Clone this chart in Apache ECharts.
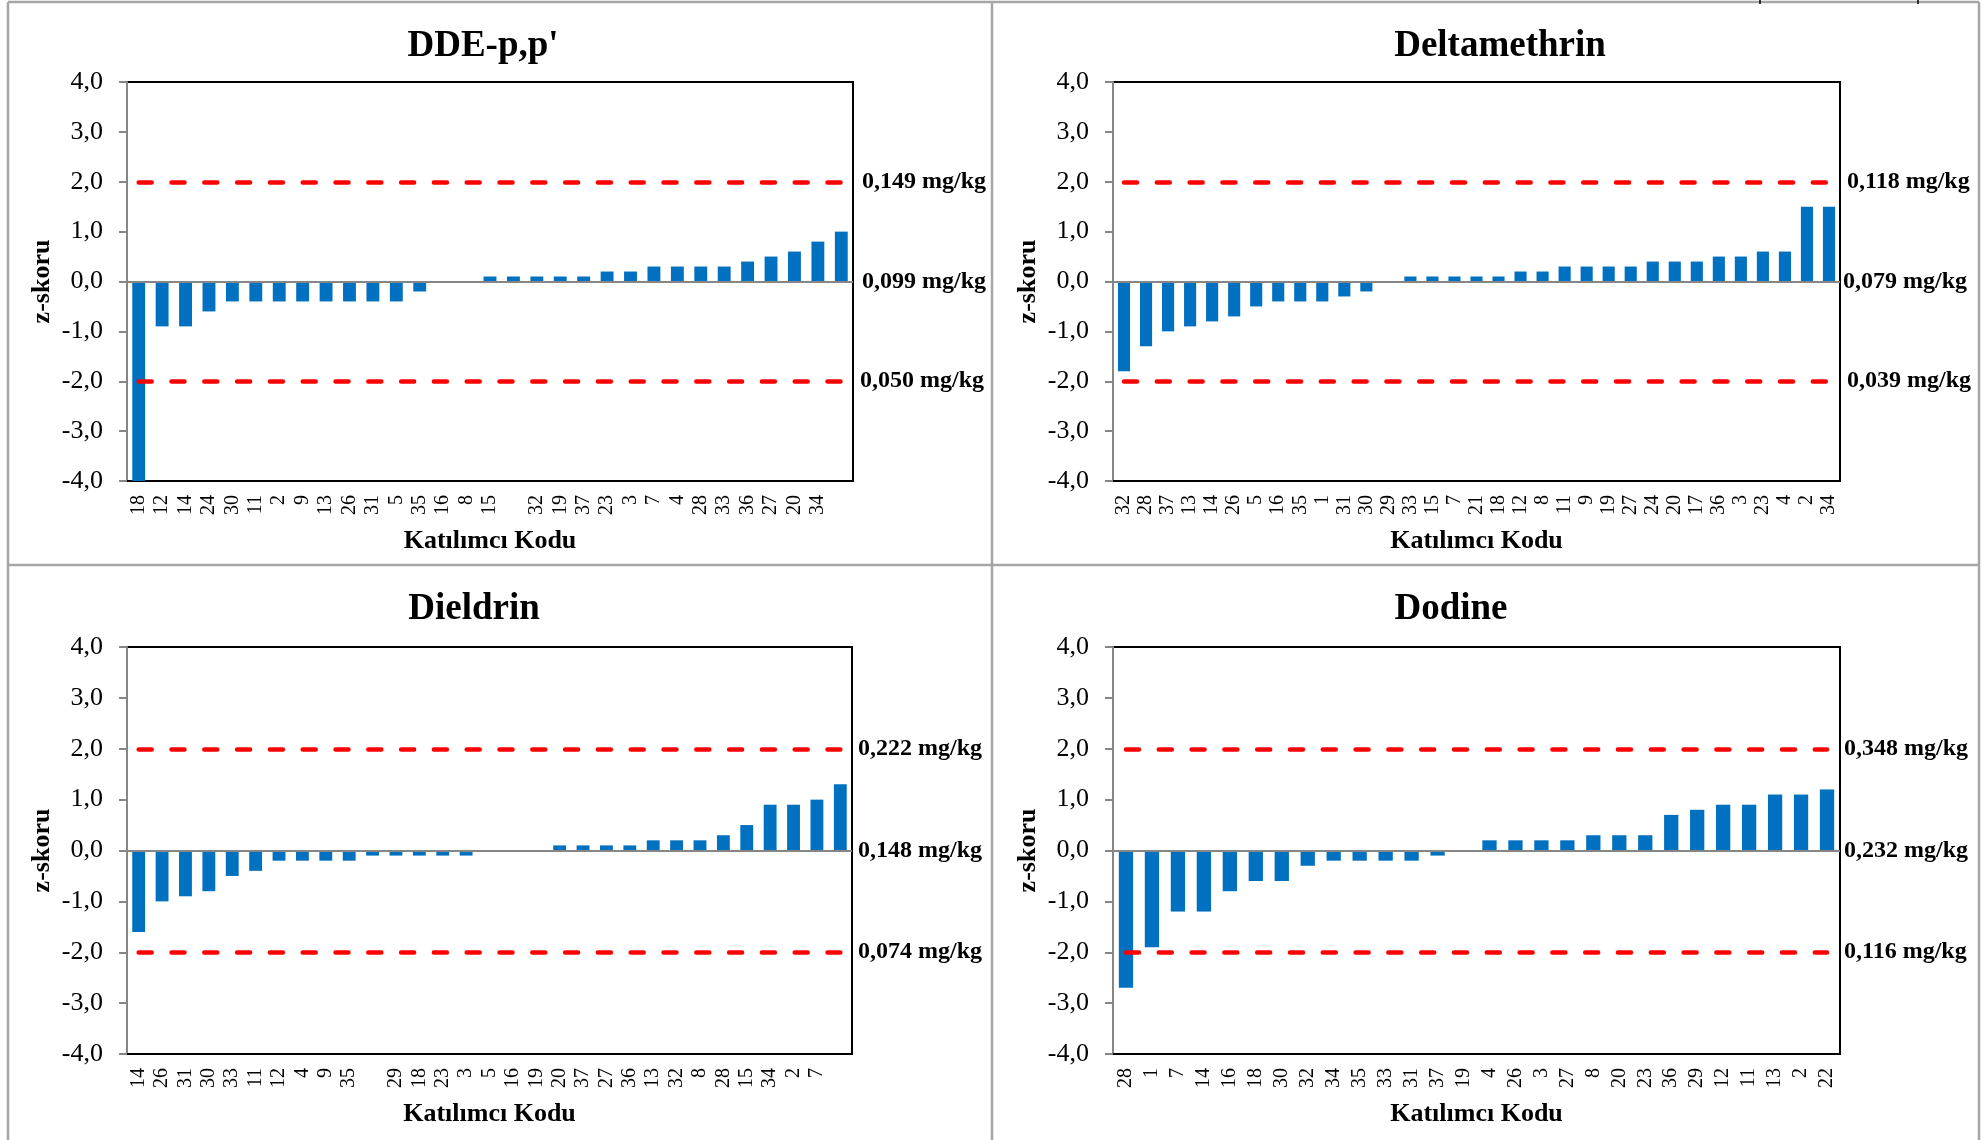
<!DOCTYPE html>
<html>
<head>
<meta charset="utf-8">
<script src="https://cdn.jsdelivr.net/npm/echarts@6/dist/echarts.min.js"></script>
<style>
html,body{margin:0;padding:0;background:#fff;}
#chart{width:1986px;height:1140px;}
</style>
</head>
<body>
<div id="chart"></div>
<script>
// ---- data ----
const titles = ["DDE-p,p'", "Deltamethrin", "Dieldrin", "Dodine"];

const ddeCategories = ["18","12","14","24","30","11","2","9","13","26","31","5","35","16","8","15"," ","32","19","37","23","3","7","4","28","33","36","27","20","34","  "];
const ddeValues = [-4.0,-0.9,-0.9,-0.6,-0.4,-0.4,-0.4,-0.4,-0.4,-0.4,-0.4,-0.4,-0.2,0,0,0.1,0.1,0.1,0.1,0.1,0.2,0.2,0.3,0.3,0.3,0.3,0.4,0.5,0.6,0.8,1.0];
const ddeLimits = ["0,149 mg/kg","0,099 mg/kg","0,050 mg/kg"];

const deltaCategories = ["32","28","37","13","14","26","5","16","35","1","31","30","29","33","15","7","21","18","12","8","11","9","19","27","24","20","17","36","3","23","4","2","34"];
const deltaValues = [-1.8,-1.3,-1.0,-0.9,-0.8,-0.7,-0.5,-0.4,-0.4,-0.4,-0.3,-0.2,0,0.1,0.1,0.1,0.1,0.1,0.2,0.2,0.3,0.3,0.3,0.3,0.4,0.4,0.4,0.5,0.5,0.6,0.6,1.5,1.5];
const deltaLimits = ["0,118 mg/kg","0,079 mg/kg","0,039 mg/kg"];

const dieldrinCategories = ["14","26","31","30","33","11","12","4","9","35"," ","29","18","23","3","5","16","19","20","37","27","36","13","32","8","28","15","34","2","7","  "];
const dieldrinValues = [-1.6,-1.0,-0.9,-0.8,-0.5,-0.4,-0.2,-0.2,-0.2,-0.2,-0.1,-0.1,-0.1,-0.1,-0.1,0,0,0,0.1,0.1,0.1,0.1,0.2,0.2,0.2,0.3,0.5,0.9,0.9,1.0,1.3];
const dieldrinLimits = ["0,222 mg/kg","0,148 mg/kg","0,074 mg/kg"];

const dodineCategories = ["28","1","7","14","16","18","30","32","34","35","33","31","37","19","4","26","3","27","8","20","23","36","29","12","11","13","2","22"];
const dodineValues = [-2.7,-1.9,-1.2,-1.2,-0.8,-0.6,-0.6,-0.3,-0.2,-0.2,-0.2,-0.2,-0.1,0,0.2,0.2,0.2,0.2,0.3,0.3,0.3,0.7,0.8,0.9,0.9,1.1,1.1,1.2];
const dodineLimits = ["0,348 mg/kg","0,232 mg/kg","0,116 mg/kg"];

const limitLevels = [2, 0, -2];
const yTicks = {min: -4, max: 4, interval: 1};
const xAxisName = "Katılımcı Kodu";
const yAxisName = "z-skoru";

// ---- layout / style ----
const SERIF = '"Liberation Serif","Times New Roman",serif';
const panels = [
  {cats: ddeCategories, vals: ddeValues, lim: ddeLimits, grid: {left:127, top:82, width:726, height:399}, title:[483,46], labDist:[9,9,7]},
  {cats: deltaCategories, vals: deltaValues, lim: deltaLimits, grid: {left:1113, top:82, width:727, height:399}, title:[1500,46], labDist:[7,3,7]},
  {cats: dieldrinCategories, vals: dieldrinValues, lim: dieldrinLimits, grid: {left:127, top:647, width:725, height:407}, title:[474,609], labDist:[6,6,6]},
  {cats: dodineCategories, vals: dodineValues, lim: dodineLimits, grid: {left:1113, top:647, width:727, height:407}, title:[1451,609], labDist:[4,4,4]}
];

const grids = [], xAxes = [], yAxes = [], series = [], graphics = [];
const fmt = v => v.toFixed(1).replace('.', ',');

panels.forEach((p, i) => {
  grids.push(Object.assign({show:true, borderColor:'#000', borderWidth:2, backgroundColor:'transparent'}, p.grid));
  xAxes.push({
    type:'category', gridIndex:i, data:p.cats, position:'bottom',
    axisLine:{show:true, onZero:false, lineStyle:{color:'#000', width:2}},
    axisTick:{show:false},
    axisLabel:{interval:0, rotate:90, margin:14, fontSize:20, fontFamily:SERIF, color:'#000'},
    name:xAxisName, nameLocation:'middle', nameGap:47,
    nameTextStyle:{fontSize:26, fontWeight:'bold', fontFamily:SERIF, color:'#000'}
  });
  yAxes.push({
    type:'value', gridIndex:i, min:yTicks.min, max:yTicks.max, interval:yTicks.interval,
    axisLine:{show:true, lineStyle:{color:'#868686', width:2}},
    axisTick:{show:true, inside:false, length:8, lineStyle:{color:'#868686', width:2}},
    splitLine:{show:false},
    axisLabel:{margin:24, fontSize:26, fontFamily:SERIF, color:'#000', formatter:fmt},
    name:yAxisName, nameLocation:'middle', nameGap:72, nameRotate:90,
    nameTextStyle:{fontSize:26, fontWeight:'bold', fontFamily:SERIF, color:'#000'}
  });
  const n = p.cats.length;
  const mlData = [];
  // zero line (category axis crossing)
  mlData.push({yAxis:0, lineStyle:{color:'#868686', width:2, type:'solid'},
    label:{show:true, position:'end', distance:p.labDist[1], formatter:p.lim[1]}});
  // labels for +2 / -2
  [0,2].forEach(k => {
    mlData.push({yAxis:limitLevels[k], lineStyle:{color:'rgba(0,0,0,0)', width:1, type:'solid'},
      label:{show:true, position:'end', distance:p.labDist[k], formatter:p.lim[k]}});
  });
  // red dashed limit lines from first to last category
  [0,2].forEach(k => {
    mlData.push([
      {coord:[0, limitLevels[k]], lineStyle:{color:'#FF0000', width:4.5, type:[13,19.8], cap:'round'}, label:{show:false}},
      {coord:[n-1, limitLevels[k]]}
    ]);
  });
  series.push({
    type:'bar', xAxisIndex:i, yAxisIndex:i, data:p.vals, barWidth:'55%',
    itemStyle:{color:'#0070C0'}, animation:false, silent:true,
    markLine:{
      silent:true, animation:false, symbol:['none','none'],
      label:{fontSize:24, fontWeight:'bold', fontFamily:SERIF, color:'#000'},
      emphasis:{disabled:true},
      data:mlData
    }
  });
  graphics.push({type:'text', x:p.title[0], y:p.title[1],
    style:{text:titles[i], align:'center', verticalAlign:'middle', font:'bold 37px '+SERIF, fill:'#000'}});
});

// panel frame lines
const frame = '#A6A6A6';
[[8,2,1979,2],[8,2,8,1140],[1979,2,1979,1140],[992,2,992,1140],[8,565,1979,565]].forEach(s => {
  graphics.push({type:'line', shape:{x1:s[0], y1:s[1], x2:s[2], y2:s[3]}, style:{stroke:frame, lineWidth:2.5}, z:-1});
});
// small marks at the top edge
[1760,1918].forEach(x => graphics.push({type:'line', shape:{x1:x,y1:0,x2:x,y2:4}, style:{stroke:'#000', lineWidth:1.5}}));

const chart = echarts.init(document.getElementById('chart'), null, {renderer:'canvas'});
chart.setOption({
  backgroundColor:'#fff',
  animation:false,
  grid:grids, xAxis:xAxes, yAxis:yAxes, series:series,
  graphic:graphics
});
</script>
</body>
</html>
